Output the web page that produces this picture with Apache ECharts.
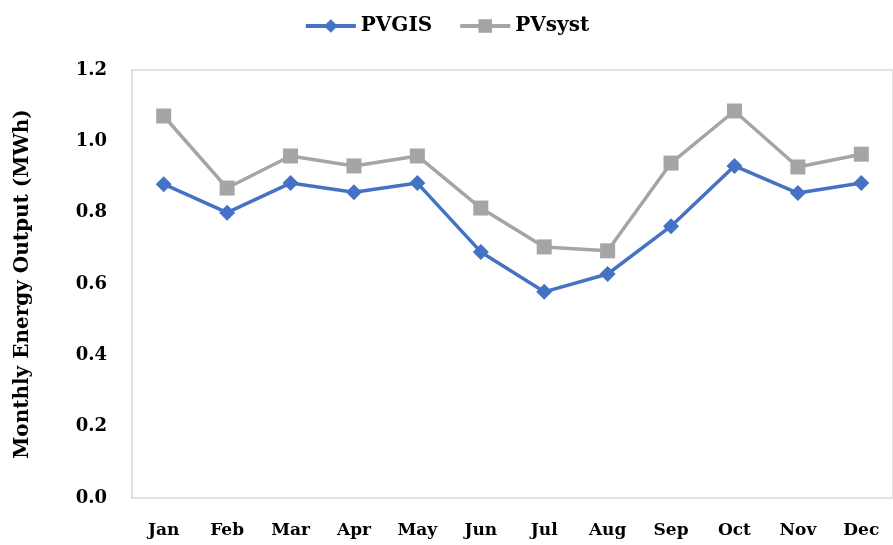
<!DOCTYPE html>
<html>
<head>
<meta charset="utf-8">
<script src="https://cdn.jsdelivr.net/npm/echarts@6/dist/echarts.min.js"></script>
<style>
  html, body { margin: 0; padding: 0; background: #fff; }
  #chart { width: 893px; height: 545px; }
</style>
</head>
<body>
<div id="chart"></div>
<script>
const months = ['Jan', 'Feb', 'Mar', 'Apr', 'May', 'Jun', 'Jul', 'Aug', 'Sep', 'Oct', 'Nov', 'Dec'];
const pvgis = [0.88, 0.80, 0.883, 0.857, 0.883, 0.69, 0.578, 0.628, 0.762, 0.931, 0.855, 0.883];
const pvsyst = [1.071, 0.869, 0.959, 0.931, 0.959, 0.813, 0.704, 0.693, 0.939, 1.085, 0.928, 0.964];

const chart = echarts.init(document.getElementById('chart'));
const font = '"DejaVu Serif", "Liberation Serif", serif';

const option = {
  backgroundColor: '#fff',
  animation: false,
  textStyle: { fontFamily: font },
  legend: {
    top: 11,
    left: 'center',
    itemWidth: 50,
    itemHeight: 17,
    itemGap: 26,
    lineStyle: { width: 4 },
    textStyle: { fontFamily: font, fontSize: 20, fontWeight: 'bold', color: '#000' },
    data: ['PVGIS', 'PVsyst']
  },
  grid: {
    left: 132,
    right: -7,
    top: 70,
    bottom: 47,
    show: true,
    borderColor: '#d9d9d9',
    borderWidth: 1.5
  },
  xAxis: {
    type: 'category',
    data: months,
    boundaryGap: true,
    axisLine: { show: false },
    axisTick: { show: false },
    axisLabel: {
      fontFamily: font, fontSize: 17, fontWeight: 'bold', color: '#000', margin: 24
    }
  },
  yAxis: {
    type: 'value',
    min: 0,
    max: 1.2,
    interval: 0.2,
    name: 'Monthly Energy Output (MWh)',
    nameLocation: 'middle',
    nameGap: 99,
    nameTextStyle: { fontFamily: font, fontSize: 20, fontWeight: 'bold', color: '#000' },
    splitLine: { show: false },
    axisLine: { show: false },
    axisTick: { show: false },
    axisLabel: {
      fontFamily: font, fontSize: 18, fontWeight: 'bold', color: '#000', margin: 25,
      formatter: v => v.toFixed(1)
    }
  },
  series: [
    {
      name: 'PVGIS',
      type: 'line',
      data: pvgis,
      symbol: 'diamond',
      symbolSize: 16,
      lineStyle: { color: '#4472c4', width: 3.5 },
      itemStyle: { color: '#4472c4' },
      z: 3
    },
    {
      name: 'PVsyst',
      type: 'line',
      data: pvsyst,
      symbol: 'rect',
      symbolSize: 15,
      lineStyle: { color: '#a5a5a5', width: 3.5 },
      itemStyle: { color: '#a5a5a5' },
      z: 2
    }
  ]
};

chart.setOption(option);
</script>
</body>
</html>
